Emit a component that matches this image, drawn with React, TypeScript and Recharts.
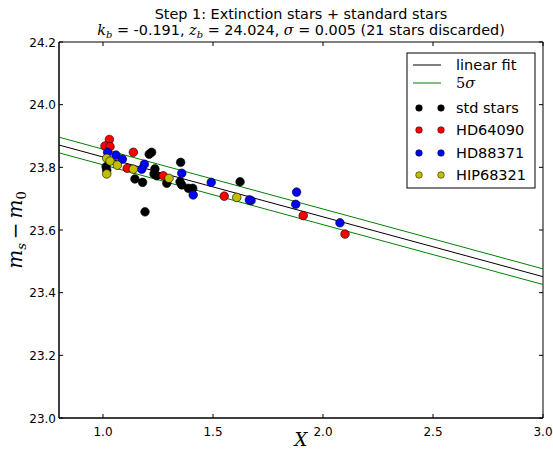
import React from "react";
import {
  ComposedChart,
  Scatter,
  XAxis,
  YAxis,
  ReferenceLine,
  ReferenceArea,
} from "recharts";

// fit result printed in the title
const KB = -0.191;
const ZB = 24.024;
const SIGMA = 0.005;
const DISCARDED = 21;

const X_TICKS = [1.0, 1.5, 2.0, 2.5, 3.0];
const Y_TICKS = [23.0, 23.2, 23.4, 23.6, 23.8, 24.0, 24.2];

const STD_X = [1.221, 1.21, 1.014, 1.017, 1.236, 1.145, 1.18, 1.232, 1.244, 1.29, 1.353, 1.35, 1.358, 1.388, 1.408, 1.191, 1.623];
const STD_Y = [23.848, 23.842, 23.802, 23.791, 23.795, 23.763, 23.752, 23.779, 23.773, 23.749, 23.816, 23.754, 23.744, 23.733, 23.733, 23.658, 23.754];

const HD64090_X = [1.029, 1.009, 1.032, 1.138, 1.11, 1.274, 1.551, 1.91, 2.1];
const HD64090_Y = [23.889, 23.868, 23.866, 23.848, 23.797, 23.773, 23.708, 23.646, 23.587];

const HD88371_X = [1.021, 1.059, 1.088, 1.188, 1.176, 1.358, 1.41, 1.492, 1.673, 1.665, 1.88, 1.876, 2.077];
const HD88371_Y = [23.848, 23.839, 23.826, 23.81, 23.794, 23.781, 23.712, 23.752, 23.694, 23.696, 23.721, 23.682, 23.623];

const HIP68321_X = [1.017, 1.032, 1.065, 1.138, 1.017, 1.3, 1.608];
const HIP68321_Y = [23.829, 23.82, 23.807, 23.794, 23.779, 23.765, 23.704];

const zip = (xs: number[], ys: number[]) => xs.map((x, i) => ({ x, y: ys[i] }));

const SERIES = [
  { name: "std stars", color: "#000000", data: zip(STD_X, STD_Y) },
  { name: "HD64090", color: "#ff0000", data: zip(HD64090_X, HD64090_Y) },
  { name: "HD88371", color: "#0000ff", data: zip(HD88371_X, HD88371_Y) },
  { name: "HIP68321", color: "#bfbf00", data: zip(HIP68321_X, HIP68321_Y) },
];

const X_MIN = 0.8;
const X_MAX = 3.0;
const fit = (x: number, off = 0) => ZB + KB * x + off;

const W = 553;
const H = 452;
const PLOT = { left: 59, right: 543, top: 42, bottom: 418 };
const SANS = "'DejaVu Sans', sans-serif";
const SERIF = "'DejaVu Serif', 'Liberation Serif', serif";

const XTick = (props: any) => {
  const { x, payload } = props;
  return (
    <g>
      <line x1={x} y1={PLOT.bottom} x2={x} y2={PLOT.bottom - 4} stroke="#000" />
      <line x1={x} y1={PLOT.top} x2={x} y2={PLOT.top + 4} stroke="#000" />
      <text x={x} y={PLOT.bottom + 18} textAnchor="middle" fontFamily={SANS} fontSize={12} fill="#000">
        {Number(payload.value).toFixed(1)}
      </text>
    </g>
  );
};

const YTick = (props: any) => {
  const { y, payload } = props;
  return (
    <g>
      <line x1={PLOT.left} y1={y} x2={PLOT.left + 4} y2={y} stroke="#000" />
      <line x1={PLOT.right} y1={y} x2={PLOT.right - 4} y2={y} stroke="#000" />
      <text x={PLOT.left - 3} y={y + 4.5} textAnchor="end" fontFamily={SANS} fontSize={12} fill="#000">
        {Number(payload.value).toFixed(1)}
      </text>
    </g>
  );
};

const Dot = (color: string) => (props: any) => (
  <circle cx={props.cx} cy={props.cy} r={4.3} fill={color} stroke="#000" strokeWidth={0.6} />
);

function LegendBox() {
  const rows = [
    { kind: "line", color: "#000", label: <tspan>linear fit</tspan> },
    {
      kind: "line",
      color: "#008000",
      label: (
        <tspan fontFamily={SERIF} fontStyle="italic">
          <tspan fontStyle="normal">5</tspan>σ
        </tspan>
      ),
    },
    ...SERIES.map((s) => ({ kind: "dot", color: s.color, label: <tspan>{s.name}</tspan> })),
  ];
  const ys = [65, 83, 108, 130, 153, 175];
  return (
    <g>
      <rect x={407} y={53} width={128} height={135} fill="#fff" stroke="#000" strokeWidth={1} />
      {rows.map((r, i) => (
        <g key={i}>
          {r.kind === "line" ? (
            <line x1={413} x2={441} y1={ys[i]} y2={ys[i]} stroke={r.color} strokeWidth={1} />
          ) : (
            <g>
              <circle cx={419} cy={ys[i]} r={3.3} fill={r.color} stroke="#000" strokeWidth={0.5} />
              <circle cx={441} cy={ys[i]} r={3.3} fill={r.color} stroke="#000" strokeWidth={0.5} />
            </g>
          )}
          <text x={456} y={ys[i] + 5} fontFamily={SANS} fontSize={14.5} fill="#000">
            {r.label}
          </text>
        </g>
      ))}
    </g>
  );
}

export default function App() {
  const cx = (PLOT.left + PLOT.right) / 2;
  return (
    <div style={{ position: "absolute", left: 0, top: 0, width: W, height: H, background: "#fff" }}>
      <ComposedChart
        width={W}
        height={H}
        margin={{ top: PLOT.top, right: W - PLOT.right, bottom: 0, left: 0 }}
      >
        <XAxis
          type="number"
          dataKey="x"
          domain={[X_MIN, X_MAX]}
          ticks={X_TICKS}
          allowDataOverflow
          height={H - PLOT.bottom}
          tickLine={false}
          tickSize={0}
          tick={XTick}
          axisLine={{ stroke: "#000" }}
        />
        <YAxis
          type="number"
          dataKey="y"
          domain={[23.0, 24.2]}
          ticks={Y_TICKS}
          allowDataOverflow
          width={PLOT.left}
          tickLine={false}
          tickSize={0}
          tick={YTick}
          axisLine={{ stroke: "#000" }}
        />
        <ReferenceArea x1={X_MIN} x2={X_MAX} y1={23.0} y2={24.2} fill="none" stroke="#000" strokeOpacity={1} fillOpacity={0} />
        <ReferenceLine
          segment={[{ x: X_MIN, y: fit(X_MIN) }, { x: X_MAX, y: fit(X_MAX) }]}
          stroke="#000"
          strokeWidth={1}
        />
        <ReferenceLine
          segment={[{ x: X_MIN, y: fit(X_MIN, 5 * SIGMA) }, { x: X_MAX, y: fit(X_MAX, 5 * SIGMA) }]}
          stroke="#008000"
          strokeWidth={1}
        />
        <ReferenceLine
          segment={[{ x: X_MIN, y: fit(X_MIN, -5 * SIGMA) }, { x: X_MAX, y: fit(X_MAX, -5 * SIGMA) }]}
          stroke="#008000"
          strokeWidth={1}
        />
        {SERIES.map((s) => (
          <Scatter key={s.name} name={s.name} data={s.data} shape={Dot(s.color)} isAnimationActive={false} />
        ))}
      </ComposedChart>
      <svg width={W} height={H} style={{ position: "absolute", left: 0, top: 0, pointerEvents: "none" }}>
        <text x={cx} y={19} textAnchor="middle" fontFamily={SANS} fontSize={14.4} fill="#000">
          Step 1: Extinction stars + standard stars
        </text>
        <text x={cx} y={35} textAnchor="middle" fontFamily={SANS} fontSize={14.4} fill="#000">
          <tspan fontFamily={SERIF} fontStyle="italic">k</tspan>
          <tspan fontFamily={SERIF} fontStyle="italic" fontSize={10} dy={3}>b</tspan>
          <tspan dy={-3}>{` = ${KB.toFixed(3)}, `}</tspan>
          <tspan fontFamily={SERIF} fontStyle="italic">z</tspan>
          <tspan fontFamily={SERIF} fontStyle="italic" fontSize={10} dy={3}>b</tspan>
          <tspan dy={-3}>{` = ${ZB.toFixed(3)}, `}</tspan>
          <tspan fontFamily={SERIF} fontStyle="italic">σ</tspan>
          <tspan>{` = ${SIGMA.toFixed(3)} (${DISCARDED} stars discarded)`}</tspan>
        </text>
        <text
          x={22}
          y={(PLOT.top + PLOT.bottom) / 2}
          textAnchor="middle"
          transform={`rotate(-90 22 ${(PLOT.top + PLOT.bottom) / 2})`}
          fontFamily={SERIF}
          fontStyle="italic"
          fontSize={20}
          fill="#000"
        >
          m<tspan fontSize={13} dy={4}>s</tspan>
          <tspan dy={-4} fontStyle="normal">{"\u2009\u2212\u2009"}</tspan>m
          <tspan fontSize={13} dy={4} fontStyle="normal">0</tspan>
        </text>
        <text x={cx} y={446} textAnchor="middle" fontFamily={SERIF} fontStyle="italic" fontSize={18} fill="#000">
          X
        </text>
        <LegendBox />
      </svg>
    </div>
  );
}
